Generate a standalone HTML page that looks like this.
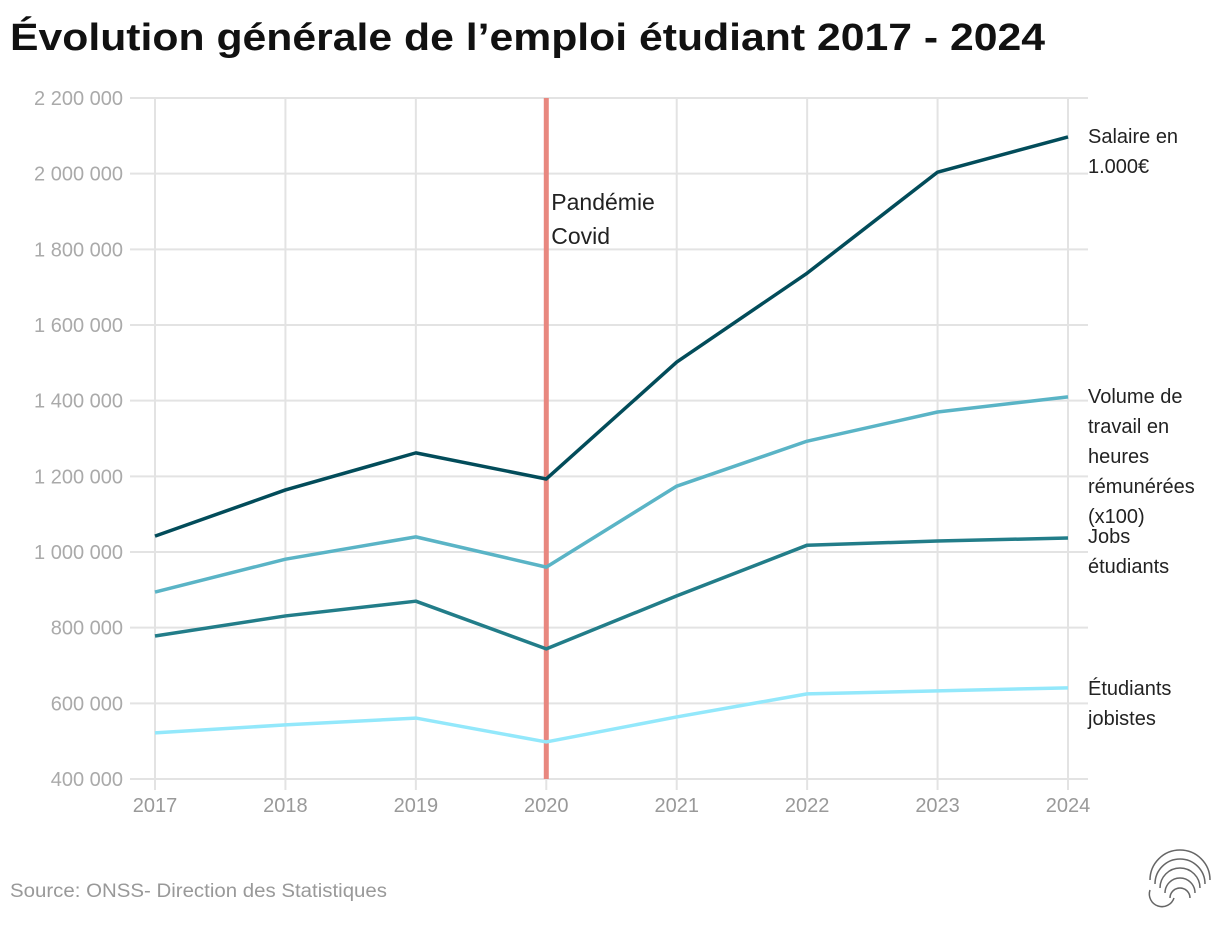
<!DOCTYPE html>
<html><head><meta charset="utf-8"><style>
body{margin:0;background:#fff;width:1220px;height:928px;overflow:hidden;font-family:"Liberation Sans",sans-serif}
</style></head><body>
<svg id="c" width="1220" height="928">
<text x="10" y="50" font-size="38" font-weight="bold" fill="#111" textLength="1035" lengthAdjust="spacingAndGlyphs">Évolution générale de l’emploi étudiant 2017 - 2024</text>
<text x="10" y="897" font-size="19" fill="#999" textLength="377" lengthAdjust="spacingAndGlyphs">Source: ONSS- Direction des Statistiques</text>
<g fill="none" stroke="#666" stroke-width="1.5">
<path d="M1150 880 a30 30 0 0 1 60 0"/><path d="M1155 884 a25 25 0 0 1 50 0"/><path d="M1160 888 a20 20 0 0 1 40 0"/><path d="M1165 893 a15 15 0 0 1 30 0"/><path d="M1170 898 a10 10 0 0 1 20 0"/><path d="M1150 890 a12 12 0 0 0 24 8"/>
</g>
</svg>
<script>
const years=[2017,2018,2019,2020,2021,2022,2023,2024];
const yTicks=[400000,600000,800000,1000000,1200000,1400000,1600000,1800000,2000000,2200000];
const tickLabels=["400 000","600 000","800 000","1 000 000","1 200 000","1 400 000","1 600 000","1 800 000","2 000 000","2 200 000"];
const salaire=[1042000,1164000,1262000,1193000,1502000,1737000,2004000,2097000];
const volume=[894000,981000,1040000,960000,1174000,1293000,1370000,1410000];
const jobs=[778000,831000,870000,744000,884000,1018000,1029000,1037000];
const etudiants=[522000,543000,561000,498000,564000,625000,633000,641000];
const covidYear=2020;
const NS="http://www.w3.org/2000/svg",svg=document.getElementById('c');
const X=y=>155+(y-2017)*(1068-155)/7;
const Y=v=>779-(v-400000)*(779-98)/1800000;
function mk(t,a,p){const e=document.createElementNS(NS,t);for(const k in a)e.setAttribute(k,a[k]);(p||svg).appendChild(e);return e;}
const g=mk('g',{});


yTicks.forEach((v,i)=>{
 const l=mk('line',{x1:130,x2:1088,y1:Y(v),y2:Y(v),stroke:'#e3e3e3','stroke-width':2},g);
 
 
 const t=mk('text',{x:123,y:Y(v)+7,'text-anchor':'end','font-size':20,fill:'#aaa'});
 t.textContent=tickLabels[i];
 
 
});
years.forEach(yr=>{
 const l=mk('line',{x1:X(yr),x2:X(yr),y1:98,y2:790,stroke:'#e3e3e3','stroke-width':2},g);
 
 
 const t=mk('text',{x:X(yr),y:812,'text-anchor':'middle','font-size':20,fill:'#999'});
 t.textContent=yr;
 
 
});
const cv=mk('line',{x1:X(covidYear),x2:X(covidYear),y1:98,y2:779,stroke:'#e8877f','stroke-width':5});


[["Pandémie",210],["Covid",244]].forEach(([s,y])=>{const t=mk('text',{x:X(covidYear)+5,y:y,'font-size':23,fill:'#222'});t.textContent=s;

});
const series=[[etudiants,'#93e8fb','etudiants-jobistes-line',["Étudiants","jobistes"],695],
[jobs,'#227d89','jobs-etudiants-line',["Jobs","étudiants"],543],
[volume,'#5ab4c6','volume-travail-line',["Volume de","travail en","heures","rémunérées","(x100)"],403],
[salaire,'#024c5a','salaire-line',["Salaire en","1.000€"],143]];
series.forEach(([d,c,n,lab,ly])=>{
 const p=mk('polyline',{points:d.map((v,i)=>X(years[i])+','+Y(v)).join(' '),fill:'none',stroke:c,'stroke-width':3.5,'stroke-linejoin':'round'});
 
 
 const t=mk('text',{x:1088,y:ly,'font-size':20,fill:'#222'});
 
 
 lab.forEach((s,i)=>{const ts=mk('tspan',{x:1088,dy:i?30:0},t);ts.textContent=s;});
});
</script>
</body></html>
